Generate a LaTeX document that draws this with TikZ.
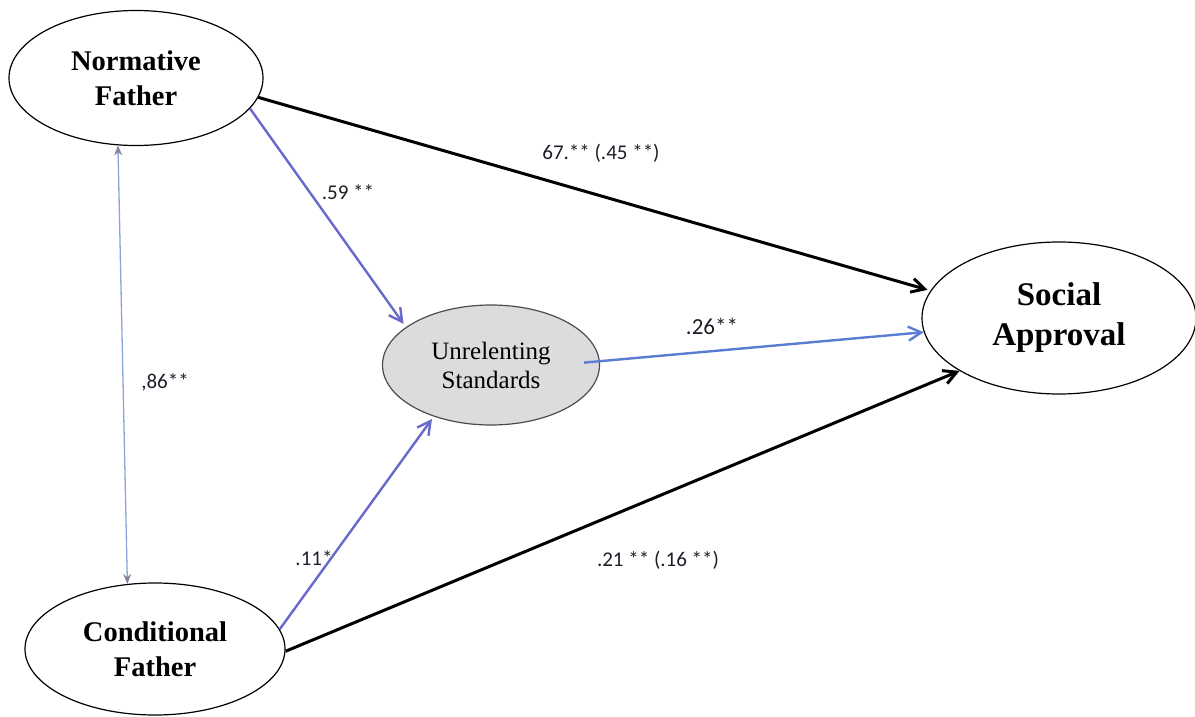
\documentclass[tikz,border=0pt]{standalone}
\usepackage{fontspec}
\setmainfont{Liberation Serif}
\newfontfamily\lblfont{Carlito}
\usetikzlibrary{shapes.geometric,arrows.meta}
\definecolor{pathblue}{RGB}{105,105,205}
\definecolor{medblue}{RGB}{90,125,210}
\definecolor{corrblue}{RGB}{140,165,215}
\definecolor{corrhead}{RGB}{130,135,160}
\definecolor{lbl}{RGB}{30,30,40}
\definecolor{usfill}{RGB}{220,220,222}
\tikzset{
  latent/.style={ellipse, draw=black, line width=1.2pt, inner sep=0pt, align=center, text=black},
  blackpath/.style={draw=black, line width=3pt, -{Straight Barb[length=13pt,width=14pt,line width=3pt]}},
  bluepath/.style={draw=pathblue, line width=2.4pt, -{Straight Barb[length=13pt,width=14pt,line width=2.4pt]}},
  corr/.style={draw=corrblue, line width=1.3pt, {Stealth[length=10pt,width=8pt,color=corrhead]}-{Stealth[length=10pt,width=8pt,color=corrhead]}},
  coef/.style={font=\lblfont\fontsize{21}{25}\selectfont, text=lbl, inner sep=0pt}
}
\begin{document}
\begin{tikzpicture}[x=1pt,y=-1pt]
\useasboundingbox (0,0) rectangle (1195,717);
\node[latent, minimum width=254pt, minimum height=135pt, font=\fontsize{28.5}{35}\selectfont\bfseries] (nf) at (136,78) {Normative\\Father};
\node[latent, minimum width=260pt, minimum height=132pt, font=\fontsize{28.5}{35}\selectfont\bfseries] (cf) at (155,649) {Conditional\\Father};
\node[latent, fill=usfill, draw=black!70, minimum width=217pt, minimum height=120pt, font=\fontsize{25}{29}\selectfont] (us) at (491,365) {Unrelenting\\Standards};
\node[latent, minimum width=274pt, minimum height=152pt, font=\fontsize{33}{40}\selectfont\bfseries] (sa) at (1059,318) {Social\\Approval};

\draw[blackpath, shorten >=3pt] (nf.-9) -- (sa.168);
\draw[bluepath, shorten >=4pt] (nf.-15) -- (us.156);
\draw[draw=medblue, line width=2.4pt, -{Straight Barb[length=13pt,width=14pt,line width=2.4pt]}, shorten <=-16pt] (us.2) -- (sa.186);
\draw[bluepath, shorten >=3pt] (cf.9) -- (us.222);
\draw[blackpath] (cf.-1) -- (sa.208);
\draw[corr] (nf.255) -- (cf.113);

\node[coef] (l1) at (601,153) {67.** (.45 **)};
\node[coef] (l2) at (348,192) {.59 **};
\node[coef] (l3) at (165,382) {,86**};
\node[coef, font=\lblfont\fontsize{23}{27}\selectfont] (l4) at (712,326) {.26**};
\node[coef] (l5) at (314,558) {.11*};
\node[coef] (l6) at (658,560) {.21 ** (.16 **)};
\end{tikzpicture}
\end{document}
